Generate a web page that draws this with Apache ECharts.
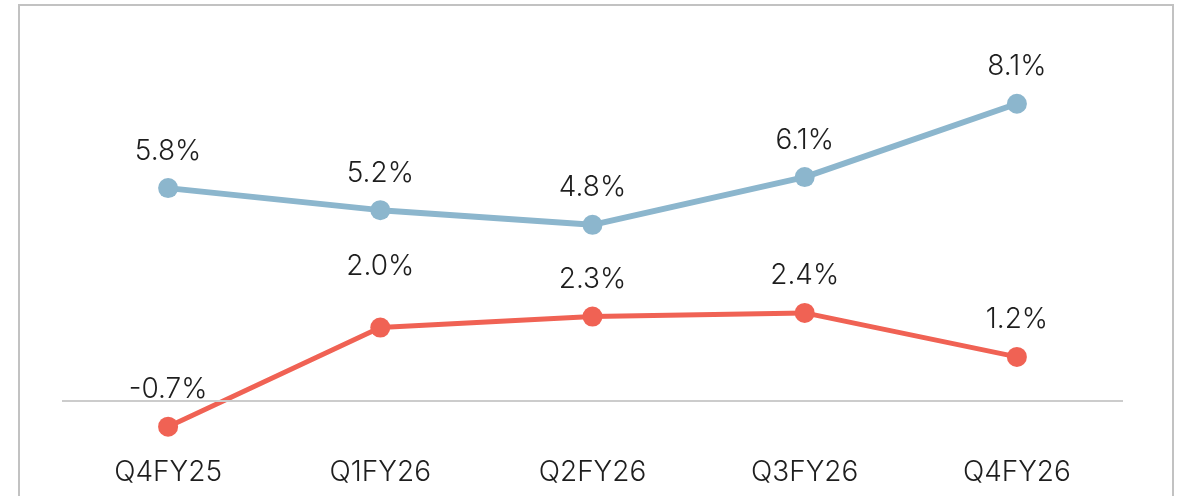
<!DOCTYPE html>
<html>
<head>
<meta charset="utf-8">
<script src="https://cdn.jsdelivr.net/npm/echarts@6/dist/echarts.min.js"></script>
<style>
html,body{margin:0;padding:0;background:#fff;}
#c{width:1184px;height:496px;}
</style>
</head>
<body>
<div id="c"></div>
<script>
var categories = ['Q4FY25', 'Q1FY26', 'Q2FY26', 'Q3FY26', 'Q4FY26'];
var seriesBlue = [5.8, 5.2, 4.8, 6.1, 8.1];
var seriesRed = [-0.7, 2.0, 2.3, 2.4, 1.2];

var FONT = 'Inter';
var chart = echarts.init(document.getElementById('c'), null, {renderer: 'canvas'});

function labelFmt(p) { return p.value.toFixed(1) + '%'; }

var redData = seriesRed.map(function (v, i) {
  if (i === 1) return {value: v, label: {distance: 37}};
  return v;
});

chart.setOption({
  animation: false,
  backgroundColor: '#ffffff',
  graphic: [{
    type: 'rect',
    shape: {x: 19, y: 5, width: 1154, height: 600},
    style: {fill: 'none', stroke: '#c2c2c2', lineWidth: 2},
    silent: true
  }],
  grid: {left: 62, right: 61, top: 34, bottom: 40},
  xAxis: {
    type: 'category',
    data: categories,
    boundaryGap: true,
    axisLine: {show: false, onZero: false},
    axisTick: {show: false},
    axisLabel: {color: '#1e1e1e', fontSize: 28, fontFamily: FONT, fontWeight: 300, margin: 3}
  },
  yAxis: {
    type: 'value',
    min: -1.5,
    max: 10,
    show: false,
    splitLine: {show: false}
  },
  series: [
    {
      type: 'line',
      data: seriesBlue,
      symbol: 'circle',
      symbolSize: 20,
      itemStyle: {color: '#8cb6cd'},
      lineStyle: {width: 6, color: '#8cb6cd'},
      label: {show: true, position: 'top', distance: 13, formatter: labelFmt,
              color: '#1e1e1e', fontSize: 28, fontFamily: FONT, fontWeight: 300},
      z: 3
    },
    {
      type: 'line',
      data: redData,
      symbol: 'circle',
      symbolSize: 20,
      itemStyle: {color: '#f06254'},
      lineStyle: {width: 5, color: '#f06254'},
      label: {show: true, position: 'top', distance: 13, formatter: labelFmt,
              color: '#1e1e1e', fontSize: 28, fontFamily: FONT, fontWeight: 300},
      markLine: {
        silent: true,
        symbol: ['none', 'none'],
        label: {show: false},
        lineStyle: {color: '#cccccc', width: 2, type: 'solid'},
        data: [{yAxis: 0}]
      },
      z: 3
    }
  ]
});
</script>
</body>
</html>
